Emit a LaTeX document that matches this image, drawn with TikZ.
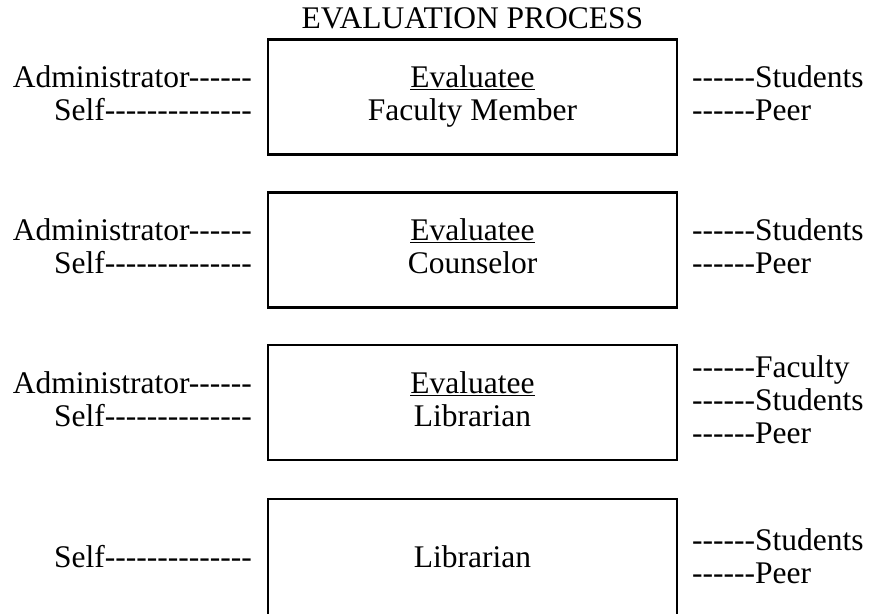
\documentclass[tikz,border=0pt]{standalone}
\usepackage{fontspec}
\setmainfont{Liberation Serif}[Ligatures=TeXOff]
\usetikzlibrary{positioning}

\begin{document}
\begin{tikzpicture}[x=1pt,y=-1pt,
  box node/.style={draw,line width=2.2pt,minimum width=409pt,minimum height=115pt,inner sep=0pt},
  txt node/.style={inner sep=0pt,font=\fontsize{31.5}{33}\selectfont}]
  \useasboundingbox (0,0) rectangle (869,613);
  \clip (0,0) rectangle (869,613);

  \node[txt node,anchor=base] (title) at (472.5,28) {EVALUATION PROCESS};

  % the four boxes
  \node[box node] (b1) at (472.5,97) {};
  \node[box node] (b2) at (472.5,250) {};
  \node[box node] (b3) at (472.5,402.5) {};
  \node[box node,minimum height=130pt] (b4) at (472.5,564) {};

  % faculty member
  \node[txt node,anchor=base east] (a1) at (252,87) {Administrator------};
  \node[txt node,anchor=base east] (s1) at (252,120) {Self--------------};
  \node[txt node,anchor=base] (e1) at (472.5,87) {\underline{Evaluatee}};
  \node[txt node,anchor=base] (n1) at (472.5,120) {Faculty Member};
  \node[txt node,anchor=base west] (st1) at (692,87) {------Students};
  \node[txt node,anchor=base west] (p1) at (692,120) {------Peer};

  % counselor
  \node[txt node,anchor=base east] (a2) at (252,240) {Administrator------};
  \node[txt node,anchor=base east] (s2) at (252,273) {Self--------------};
  \node[txt node,anchor=base] (e2) at (472.5,240) {\underline{Evaluatee}};
  \node[txt node,anchor=base] (n2) at (472.5,273) {Counselor};
  \node[txt node,anchor=base west] (st2) at (692,240) {------Students};
  \node[txt node,anchor=base west] (p2) at (692,273) {------Peer};

  % librarian
  \node[txt node,anchor=base east] (a3) at (252,393) {Administrator------};
  \node[txt node,anchor=base east] (s3) at (252,426) {Self--------------};
  \node[txt node,anchor=base] (e3) at (472.5,393) {\underline{Evaluatee}};
  \node[txt node,anchor=base] (n3) at (472.5,426) {Librarian};
  \node[txt node,anchor=base west] (f3) at (692,377) {------Faculty};
  \node[txt node,anchor=base west] (st3) at (692,410) {------Students};
  \node[txt node,anchor=base west] (p3) at (692,443) {------Peer};

  % librarian, self only
  \node[txt node,anchor=base east] (s4) at (252,567) {Self--------------};
  \node[txt node,anchor=base] (n4) at (472.5,567) {Librarian};
  \node[txt node,anchor=base west] (st4) at (692,550) {------Students};
  \node[txt node,anchor=base west] (p4) at (692,583) {------Peer};
\end{tikzpicture}
\end{document}
